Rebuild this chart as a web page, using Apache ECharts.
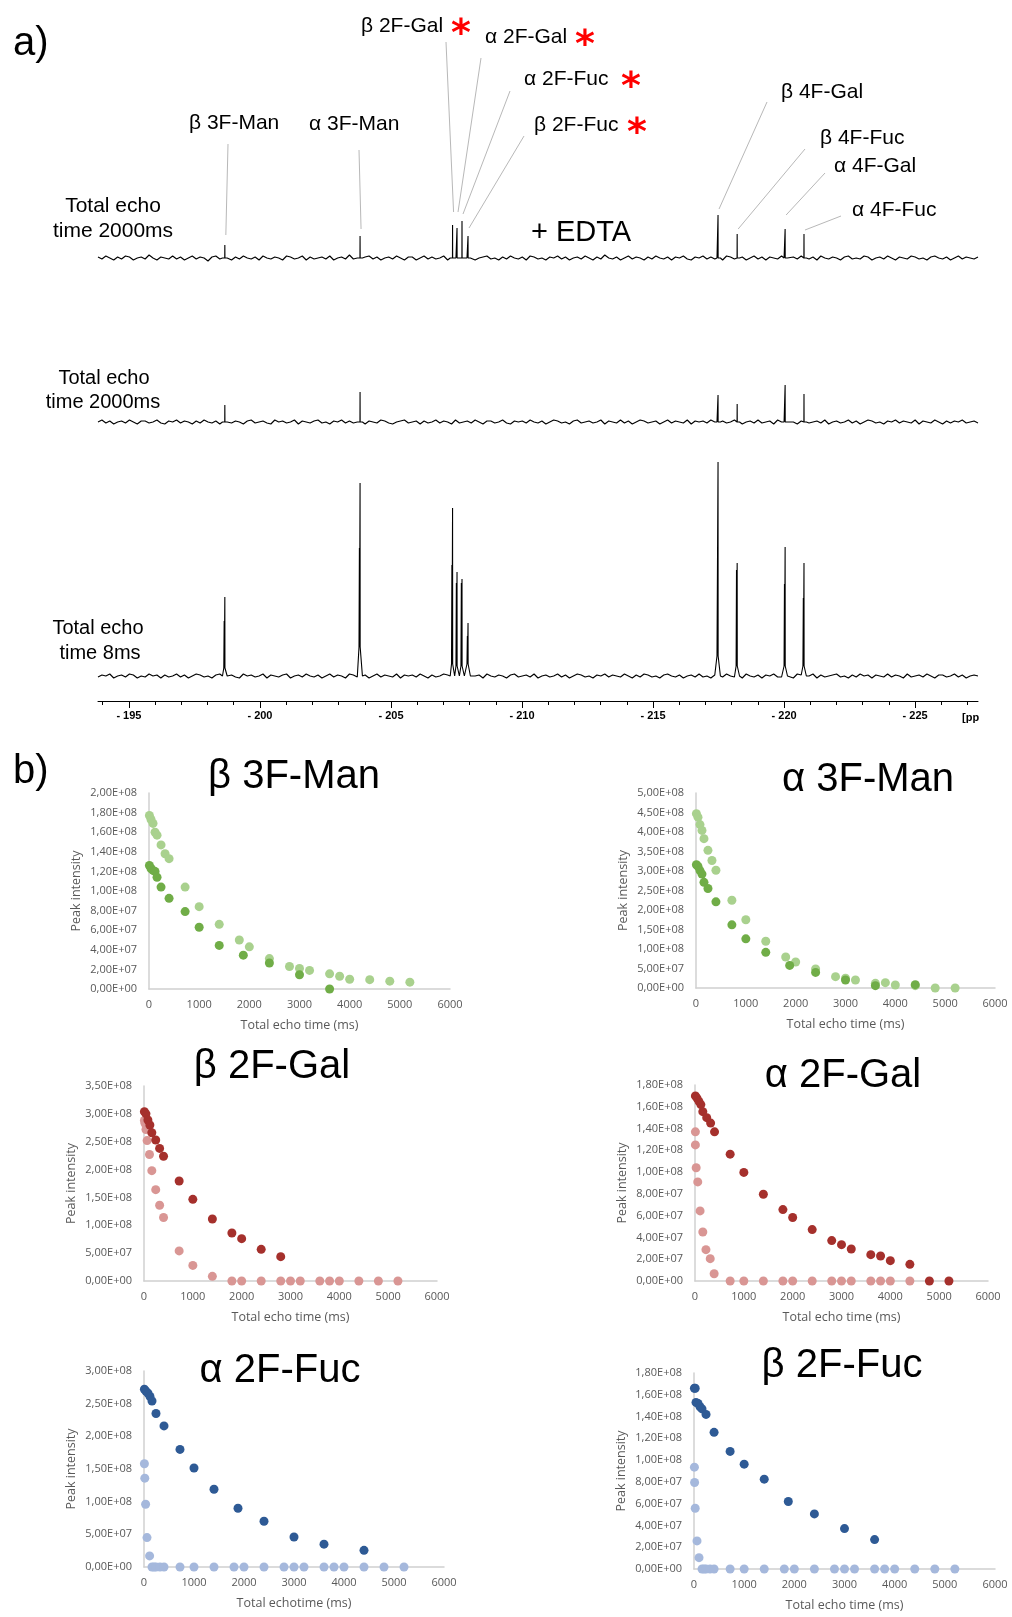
<!DOCTYPE html>
<html>
<head>
<meta charset="utf-8">
<script src="https://cdn.jsdelivr.net/npm/echarts@6/dist/echarts.min.js"></script>
<style>
  html, body { margin: 0; padding: 0; background: #fff; }
  #chart { width: 1012px; height: 1617px; }
</style>
</head>
<body>
<div id="chart"></div>
<script>
// ---------------- a) 19F spectra ----------------
const PPM_LEFT = -193.82;
const PPM_RIGHT = -227.4;

const peakNames = ['β 3F-Man', 'α 3F-Man', 'β 2F-Gal', 'α 2F-Gal', 'α 2F-Fuc', 'β 2F-Fuc', 'β 4F-Gal', 'β 4F-Fuc', 'α 4F-Gal', 'α 4F-Fuc'];
const peakPpm = [-198.66, -203.82, -207.35, -207.52, -207.71, -207.94, -217.48, -218.21, -220.04, -220.76];

// peak heights per spectrum (plot units)
const edta2000Heights = [13, 22, 33, 30, 37, 22, 43, 24, 29, 24];
const echo2000Heights = [17, 30, 0, 0, 0, 0, 27, 18, 37, 28];
const echo8Heights = [79, 193, 168, 104, 97, 53, 214, 113, 129, 113];
const echo8Shoulder = [55, 128, 111, 93, 93, 40, 20, 106, 92, 78];
const echo8Base = [8, 29, 12, 10, 10, 12, 20, 10, 10, 10];

// baseline noise, sampled evenly across the ppm window
const edta2000Noise = [
  1,-1,2,0,-2,1,-1,2,1,-2,0,1,-1,3,0,
  -2,1,0,-1,2,-1,1,-2,0,2,-1,1,0,-3,1,
  2,-1,0,1,-2,1,-1,2,0,-1,1,-2,2,0,-1,
  1,0,-2,2,1,-1,0,2,-2,1,-1,0,1,-1,2,
  -2,0,1,-1,3,-1,0,-2,1,2,-1,1,-2,0,1,
  -1,2,0,-2,1,1,-2,0,2,-1,1,-1,0,2,-2,
  1,0,-1,2,-1,1,-2,0,1,2,-1,0,-2,1,-1,
  2,0,-1,1,-2,2,1,-1,0,-2,1,0,2,-1,1,
  -2,0,1,-1,2,0,-2,1,-1,3,0,-1,1,-2,0,
  2,-1,1,0,-2,1,-1,2,0,-1,1,-2,1,0,2,
  -1,-2,1,0,2,-1,1,-1,0,-2,2,1,-1,0,1,
  -2,0,2,-1,1,-2,1,0,-1,2,0,-2,1,-1,2,
  0,-1,1,-2,2,0,-1,1,0,-2,1,2,-1,0,-1,
  2,1,-2,0,1,-1,2,0,-2,1,0,-1,2,1,-1,
  0,-2,1,2,0,-1,1,-2,0,2,-1,1,0,-1,1
];
const echo2000Noise = [
  0,2,-1,1,-2,0,1,-1,2,0,-2,1,1,-1,0,
  2,-1,-2,1,0,2,-1,1,0,-2,1,-1,2,0,-1,
  1,-2,2,0,-1,1,0,-2,1,2,-1,0,1,-1,-2,
  2,0,1,-1,0,2,-2,1,0,-1,1,2,-1,0,-2,
  1,0,2,-1,1,-1,0,2,-2,1,0,-1,2,1,-1,
  -2,0,1,2,-1,0,1,-2,1,-1,0,2,-1,1,0,
  -2,2,-1,0,1,-1,2,0,-2,1,1,-1,0,2,-1,
  -2,1,0,1,-1,2,0,-1,1,-2,0,2,1,-1,0,
  -2,1,2,-1,0,1,-1,0,2,-2,1,0,-1,2,-1,
  1,-2,0,2,1,-1,0,1,-2,0,2,-1,1,0,-1,
  2,-2,1,0,1,-1,2,0,-2,1,-1,0,2,1,-2,
  0,1,-1,2,-1,0,1,-2,2,0,-1,1,0,-2,1,
  2,-1,0,1,-1,2,-2,0,1,-1,0,2,-1,1,-2,
  0,2,1,-1,0,-2,1,0,2,-1,1,0,-1,2,-2,
  1,0,-1,2,0,-2,1,-1,1,0,2,-1,0,1,-1
];
const echo8Noise = [
  -1,1,0,2,-2,0,1,-1,2,1,-2,0,-1,2,0,
  1,-2,1,-1,0,2,-1,1,-2,0,2,1,-1,0,-2,
  1,2,-1,0,1,-1,-2,2,0,1,-1,0,2,-2,1,
  0,-1,1,2,-2,0,1,-1,2,0,-1,1,-2,0,2,
  -1,1,0,-2,2,1,-1,0,1,-2,0,2,-1,1,0,
  -1,2,-2,1,0,1,-1,2,0,-2,1,-1,0,2,1,
  -2,0,1,-1,2,-1,0,1,-2,2,0,-1,1,0,-2,
  1,2,-1,0,1,-1,2,-2,0,1,-1,0,2,-1,1,
  -2,0,2,1,-1,0,-2,1,0,2,-1,1,0,-1,2,
  0,-2,1,-1,2,1,-1,0,-2,1,2,0,-1,1,-2,
  0,1,-1,2,-1,0,-2,1,1,-1,2,0,-1,1,-2,
  2,0,-1,1,-2,1,0,2,-1,-1,1,0,-2,2,1,
  -1,0,2,-2,1,-1,0,1,2,-1,0,-2,1,-1,2,
  0,1,-2,1,0,-1,2,-1,1,0,-2,2,-1,0,1,
  -1,2,0,-2,1,1,-1,0,2,-1,1,-2,0,1,0
];

const ppmTicks = [-195, -200, -205, -210, -215, -220, -225];
const ppmMinorTicks = [-194,-196,-197,-198,-199,-201,-202,-203,-204,-206,-207,-208,-209,-211,-212,-213,-214,-216,-217,-218,-219,-221,-222,-223,-224,-226,-227];

// ---------------- b) peak intensity vs total echo time ----------------
const beta3ManLight = [[8,1.77e8],[40,1.73e8],[80,1.69e8],[120,1.60e8],[160,1.57e8],[240,1.47e8],[320,1.38e8],[400,1.33e8],[720,1.04e8],[1000,0.84e8],[1400,0.66e8],[1800,0.50e8],[2000,0.43e8],[2400,0.31e8],[2800,0.23e8],[3000,0.21e8],[3200,0.19e8],[3600,0.155e8],[3800,0.13e8],[4000,0.10e8],[4400,0.095e8],[4800,0.08e8],[5200,0.07e8]];
const beta3ManDark = [[8,1.26e8],[40,1.23e8],[80,1.21e8],[120,1.20e8],[160,1.14e8],[240,1.04e8],[400,0.925e8],[720,0.79e8],[1000,0.63e8],[1400,0.445e8],[1880,0.345e8],[2400,0.265e8],[3000,0.145e8],[3600,0]];

const alpha3ManLight = [[8,4.47e8],[40,4.38e8],[80,4.19e8],[120,4.04e8],[160,3.83e8],[240,3.53e8],[320,3.27e8],[400,3.02e8],[720,2.25e8],[1000,1.75e8],[1400,1.20e8],[1800,0.795e8],[2000,0.667e8],[2400,0.487e8],[2800,0.29e8],[3000,0.25e8],[3200,0.205e8],[3600,0.12e8],[3800,0.137e8],[4000,0.077e8],[4400,0.06e8],[4800,0],[5200,0]];
const alpha3ManDark = [[8,3.16e8],[40,3.12e8],[80,3.01e8],[120,2.92e8],[160,2.71e8],[240,2.55e8],[400,2.21e8],[720,1.62e8],[1000,1.26e8],[1400,0.915e8],[1880,0.58e8],[2400,0.40e8],[3000,0.205e8],[3600,0.06e8],[4400,0.085e8]];

const beta2GalLight = [[8,2.88e8],[20,2.83e8],[40,2.72e8],[64,2.52e8],[112,2.27e8],[160,1.98e8],[240,1.64e8],[320,1.36e8],[400,1.14e8],[720,0.54e8],[1000,0.28e8],[1400,0.084e8],[1800,0],[2000,0],[2400,0],[2800,0],[3000,0],[3200,0],[3600,0],[3800,0],[4000,0],[4400,0],[4800,0],[5200,0]];
const beta2GalDark = [[8,3.04e8],[40,3.00e8],[80,2.89e8],[120,2.80e8],[160,2.66e8],[240,2.53e8],[320,2.38e8],[400,2.24e8],[720,1.795e8],[1000,1.466e8],[1400,1.113e8],[1800,0.862e8],[2000,0.76e8],[2400,0.568e8],[2800,0.437e8]];

const alpha2GalLight = [[8,1.37e8],[8,1.25e8],[24,1.04e8],[56,0.91e8],[104,0.644e8],[160,0.45e8],[224,0.288e8],[312,0.205e8],[392,0.067e8],[720,0],[1000,0],[1400,0],[1800,0],[2000,0],[2400,0],[2800,0],[3000,0],[3200,0],[3600,0],[3800,0],[4000,0],[4400,0]];
const alpha2GalDark = [[8,1.70e8],[40,1.68e8],[80,1.65e8],[120,1.62e8],[160,1.555e8],[240,1.50e8],[320,1.45e8],[400,1.37e8],[720,1.165e8],[1000,0.997e8],[1400,0.797e8],[1800,0.656e8],[2000,0.583e8],[2400,0.472e8],[2800,0.371e8],[3000,0.334e8],[3200,0.294e8],[3600,0.242e8],[3800,0.23e8],[4000,0.187e8],[4400,0.153e8],[4800,0],[5200,0]];

const alpha2FucLight = [[8,1.58e8],[16,1.36e8],[32,0.96e8],[60,0.45e8],[112,0.17e8],[160,0],[200,0],[240,0],[320,0],[400,0],[720,0],[1000,0],[1400,0],[1800,0],[2000,0],[2400,0],[2800,0],[3000,0],[3200,0],[3600,0],[3800,0],[4000,0],[4400,0],[4800,0],[5200,0]];
const alpha2FucDark = [[8,2.72e8],[40,2.69e8],[80,2.66e8],[120,2.61e8],[160,2.54e8],[240,2.35e8],[400,2.16e8],[720,1.80e8],[1000,1.515e8],[1400,1.19e8],[1880,0.90e8],[2400,0.70e8],[3000,0.46e8],[3600,0.35e8],[4400,0.255e8]];

const beta2FucLight = [[8,0.935e8],[12,0.794e8],[24,0.558e8],[60,0.258e8],[100,0.104e8],[160,0],[200,0],[240,0],[320,0],[400,0],[720,0],[1000,0],[1400,0],[1800,0],[2000,0],[2400,0],[2800,0],[3000,0],[3200,0],[3600,0],[3800,0],[4000,0],[4400,0],[4800,0],[5200,0]];
const beta2FucDark = [[8,1.66e8],[24,1.66e8],[40,1.53e8],[80,1.52e8],[120,1.49e8],[160,1.47e8],[240,1.42e8],[400,1.255e8],[720,1.08e8],[1000,0.963e8],[1400,0.825e8],[1880,0.62e8],[2400,0.506e8],[3000,0.371e8],[3600,0.27e8]];

// ---------------- helpers ----------------
function buildSpectrum(heights, noise, shoulder, base) {
  const pts = [];
  const step = (PPM_RIGHT - PPM_LEFT) / (noise.length - 1);
  noise.forEach((v, i) => {
    const p = PPM_LEFT + i * step;
    const near = peakPpm.some((q, k) => heights[k] > 0 && Math.abs(p - q) < 0.1);
    if (!near) pts.push([p, v]);
  });
  peakPpm.forEach((p, k) => {
    const h = heights[k];
    if (!h) return;
    const b = base ? base[k] : 0;
    const s = shoulder ? shoulder[k] : 0;
    pts.push([p + 0.09, 0], [p + 0.04, b]);
    if (s) pts.push([p + 0.028, b], [p + 0.025, s], [p + 0.022, b]);
    pts.push([p + 0.004, b], [p, h], [p - 0.004, b], [p - 0.04, b], [p - 0.09, 0]);
  });
  pts.sort((a, c) => c[0] - a[0]);
  return pts;
}

function sciLabel(v) {
  if (Math.abs(v) < 1) return '0,00E+00';
  const e = Math.floor(Math.log10(v) + 1e-9);
  const m = v / Math.pow(10, e);
  return m.toFixed(2).replace('.', ',') + 'E+' + String(e).padStart(2, '0');
}

// ---------------- layout ----------------
const SANS = "'Liberation Sans', Arial, sans-serif";
const SMALL = "'Open Sans', 'Noto Sans', sans-serif";

const spectrumGrids = [
  { left: 98, top: 208, width: 880, height: 60, yMin: -10, yMax: 50 },
  { left: 98, top: 372, width: 880, height: 60, yMin: -10, yMax: 50 },
  { left: 98, top: 450, width: 880, height: 251, yMin: -25, yMax: 226 }
];

const panels = [
  { title: 'β 3F-Man', tx: 294, ty: 777, grid: { left: 149, top: 793, width: 301, height: 196 }, yMax: 2e8, yStep: 2e7, light: beta3ManLight, dark: beta3ManDark, cLight: '#a9d18e', cDark: '#70ad47', xName: 'Total echo time (ms)' },
  { title: 'α 3F-Man', tx: 868, ty: 780, grid: { left: 696, top: 793, width: 299, height: 195 }, yMax: 5e8, yStep: 5e7, light: alpha3ManLight, dark: alpha3ManDark, cLight: '#a9d18e', cDark: '#70ad47', xName: 'Total echo time (ms)' },
  { title: 'β 2F-Gal', tx: 272, ty: 1067, grid: { left: 144, top: 1086, width: 293, height: 195 }, yMax: 3.5e8, yStep: 5e7, light: beta2GalLight, dark: beta2GalDark, cLight: '#d99694', cDark: '#a5302c', xName: 'Total echo time (ms)' },
  { title: 'α 2F-Gal', tx: 843, ty: 1076, grid: { left: 695, top: 1085, width: 293, height: 196 }, yMax: 1.8e8, yStep: 2e7, light: alpha2GalLight, dark: alpha2GalDark, cLight: '#d99694', cDark: '#a5302c', xName: 'Total echo time (ms)' },
  { title: 'α 2F-Fuc', tx: 280, ty: 1371, grid: { left: 144, top: 1371, width: 300, height: 196 }, yMax: 3e8, yStep: 5e7, light: alpha2FucLight, dark: alpha2FucDark, cLight: '#a5b8dc', cDark: '#2e5a95', xName: 'Total echotime (ms)' },
  { title: 'β 2F-Fuc', tx: 842, ty: 1366, grid: { left: 694, top: 1373, width: 301, height: 196 }, yMax: 1.8e8, yStep: 2e7, light: beta2FucLight, dark: beta2FucDark, cLight: '#a5b8dc', cDark: '#2e5a95', xName: 'Total echo time (ms)' }
];

const grids = [], xAxes = [], yAxes = [], series = [];

const spectra = [
  buildSpectrum(edta2000Heights, edta2000Noise),
  buildSpectrum(echo2000Heights, echo2000Noise),
  buildSpectrum(echo8Heights, echo8Noise, echo8Shoulder, echo8Base)
];

spectrumGrids.forEach((g, i) => {
  grids.push({ left: g.left, top: g.top, width: g.width, height: g.height });
  xAxes.push({
    gridIndex: i, type: 'value', position: 'bottom', min: PPM_RIGHT, max: PPM_LEFT, inverse: true,
    show: i === 2,
    axisLine: { show: true, onZero: false, lineStyle: { color: '#000', width: 1 } },
    axisTick: { show: true, customValues: ppmTicks, length: 7, lineStyle: { color: '#000', width: 1 } },
    axisLabel: {
      show: true, customValues: ppmTicks, margin: 9,
      formatter: v => '- ' + Math.abs(v),
      fontFamily: SANS, fontWeight: 'bold', fontSize: 11, color: '#000'
    },
    splitLine: { show: false }
  });
  yAxes.push({ gridIndex: i, type: 'value', min: g.yMin, max: g.yMax, show: false, splitLine: { show: false } });
  series.push({
    type: 'line', xAxisIndex: i, yAxisIndex: i, data: spectra[i],
    showSymbol: false, symbol: 'none', clip: false, silent: true,
    lineStyle: { color: '#000', width: 1.1 }
  });
});

// minor ticks of the ppm axis
xAxes.push({
  gridIndex: 2, type: 'value', position: 'bottom', min: PPM_RIGHT, max: PPM_LEFT, inverse: true,
  axisLine: { show: false, onZero: false },
  axisTick: { show: true, customValues: ppmMinorTicks, length: 4, lineStyle: { color: '#000', width: 1 } },
  axisLabel: { show: false },
  splitLine: { show: false }
});

panels.forEach((p, k) => {
  const gi = 3 + k;
  grids.push(p.grid);
  xAxes.push({
    gridIndex: gi, type: 'value', position: 'bottom', min: 0, max: 6000, interval: 1000,
    axisLine: { show: true, onZero: false, lineStyle: { color: '#d0d0d0', width: 1.5 } },
    axisTick: { show: false },
    axisLabel: { color: '#595959', fontSize: 11, fontFamily: SMALL, margin: 10, formatter: v => String(v) },
    splitLine: { show: false },
    name: p.xName, nameLocation: 'middle', nameGap: 30,
    nameTextStyle: { color: '#595959', fontSize: 12.5, fontFamily: SMALL }
  });
  yAxes.push({
    gridIndex: gi, type: 'value', position: 'left', min: 0, max: p.yMax, interval: p.yStep,
    axisLine: { show: true, onZero: false, lineStyle: { color: '#d0d0d0', width: 1.5 } },
    axisTick: { show: false },
    axisLabel: { color: '#595959', fontSize: 11, fontFamily: SMALL, margin: 12, formatter: sciLabel },
    splitLine: { show: false },
    name: 'Peak intensity', nameLocation: 'middle', nameGap: 66,
    nameTextStyle: { color: '#595959', fontSize: 12.5, fontFamily: SMALL }
  });
  [['light', p.cLight], ['dark', p.cDark]].forEach(([key, color]) => {
    series.push({
      type: 'scatter', xAxisIndex: 4 + k, yAxisIndex: gi, data: p[key],
      symbol: 'circle', symbolSize: 9, clip: false, silent: true,
      itemStyle: { color: color, opacity: 1 }
    });
  });
});

const chart = echarts.init(document.getElementById('chart'), null, { renderer: 'canvas' });
chart.setOption({
  animation: false,
  backgroundColor: '#fff',
  grid: grids, xAxis: xAxes, yAxis: yAxes, series: series
});

// ---------------- annotations ----------------
const peakLabels = [
  { i: 0, left: 189, y: 123, lx: 228, ly: 144, gap: 10 },
  { i: 1, left: 309, y: 124, lx: 359, ly: 150, gap: 7 },
  { i: 2, left: 361, y: 26, lx: 446, ly: 42, gap: 13, star: 461 },
  { i: 3, left: 485, y: 37, lx: 481, ly: 58, gap: 16, star: 585 },
  { i: 4, left: 524, y: 79, lx: 510, ly: 91, gap: 7, star: 631 },
  { i: 5, left: 534, y: 125, lx: 524, ly: 136, gap: 8, star: 637 },
  { i: 6, left: 781, y: 92, lx: 767, ly: 102, gap: 6 },
  { i: 7, left: 820, y: 138, lx: 805, ly: 149, gap: 5 },
  { i: 8, left: 834, y: 166, lx: 825, ly: 173, gap: 14 },
  { i: 9, left: 852, y: 210, lx: 841, ly: 216, gap: 4 }
];

const elements = [];
function txt(x, y, text, size, opts) {
  elements.push({
    type: 'text', x: x, y: y, silent: true,
    style: Object.assign({
      text: text, fontSize: size, fontFamily: SANS, fill: '#000',
      textAlign: 'left', textVerticalAlign: 'middle'
    }, opts || {})
  });
}

txt(13, 44, 'a)', 40);
txt(13, 772, 'b)', 40);

peakLabels.forEach(L => {
  txt(L.left, L.y, peakNames[L.i], 21);
  if (L.star) txt(L.star, L.y + 9, '*', 38, { textAlign: 'center', fill: '#ff0000', fontWeight: 'bold', fontFamily: "'DejaVu Sans', sans-serif" });
  const top = chart.convertToPixel({ xAxisIndex: 0, yAxisIndex: 0 }, [peakPpm[L.i], edta2000Heights[L.i]]);
  elements.push({
    type: 'line', silent: true,
    shape: { x1: L.lx, y1: L.ly, x2: top[0] + 1, y2: top[1] - L.gap },
    style: { stroke: '#b8b8b8', lineWidth: 1 }
  });
});

txt(531, 233, '+ EDTA', 29);

txt(113, 206, 'Total echo', 21, { textAlign: 'center' });
txt(113, 231, 'time 2000ms', 21, { textAlign: 'center' });
txt(104, 378, 'Total echo', 20, { textAlign: 'center' });
txt(103, 402, 'time 2000ms', 20, { textAlign: 'center' });
txt(98, 628, 'Total echo', 20, { textAlign: 'center' });
txt(100, 653, 'time 8ms', 20, { textAlign: 'center' });

txt(962, 718, '[pp', 11, { fontWeight: 'bold' });

panels.forEach(p => txt(p.tx, p.ty, p.title, 40, { textAlign: 'center' }));

chart.setOption({ graphic: { elements: elements } });
</script>
</body>
</html>
